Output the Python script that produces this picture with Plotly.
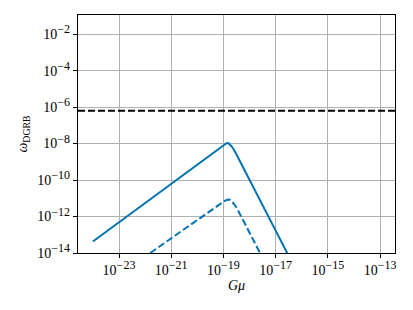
import plotly.graph_objects as go

# Data (log10 values)
gmu_log_solid = [-24.0, -19.4, -19.2, -19.05, -18.95, -18.87, -18.8, -18.73, -18.65, -18.5, -16.58, -16.2]
omega_log_solid = [-13.37, -8.5, -8.3, -8.13, -8.03, -7.97, -7.98, -8.07, -8.22, -8.6, -14.0, -15.0]
gmu_log_dashed = [-24.0, -19.3, -19.1, -18.95, -18.85, -18.77, -18.7, -18.62, -18.5, -17.6, -17.2]
omega_log_dashed = [-16.2, -11.48, -11.27, -11.14, -11.08, -11.07, -11.12, -11.25, -11.5, -14.0, -15.0]
dgrb_limit = 6.3e-7

x_tick_exps = [-23, -21, -19, -17, -15, -13]
y_tick_exps = [-14, -12, -10, -8, -6, -4, -2]

blue = "#0173B2"
font_family = "Liberation Serif, DejaVu Serif, serif"

fig = go.Figure()
fig.add_trace(go.Scatter(
    x=[10 ** v for v in gmu_log_solid], y=[10 ** v for v in omega_log_solid],
    mode="lines", line=dict(color=blue, width=2), showlegend=False))
fig.add_trace(go.Scatter(
    x=[10 ** v for v in gmu_log_dashed], y=[10 ** v for v in omega_log_dashed],
    mode="lines", line=dict(color=blue, width=2, dash="7px,3px"), showlegend=False))
fig.add_hline(y=dgrb_limit, line=dict(color="black", width=2, dash="7px,3px"))


def tick_text(e):
    return f"10<sup><span style='font-size:12px'>\u2212{-e}</span></sup>"


axis_common = dict(
    type="log", showgrid=True, gridcolor="#b0b0b0", gridwidth=1,
    ticks="outside", ticklen=4, tickwidth=1, tickcolor="black",
    showline=True, linecolor="black", linewidth=1.2, mirror=True,
    zeroline=False, tickfont=dict(family=font_family, size=14, color="black"),
)

fig.update_xaxes(
    **axis_common, range=[-24.57, -12.43],
    tickvals=[10 ** e for e in x_tick_exps],
    ticktext=[tick_text(e) for e in x_tick_exps],
    title=dict(text="<i>G\u03bc</i>", font=dict(family=font_family, size=14, color="black"), standoff=0),
)
fig.update_yaxes(
    **axis_common, range=[-14, -0.95],
    tickvals=[10 ** e for e in y_tick_exps],
    ticktext=[tick_text(e) for e in y_tick_exps],
    title=dict(text="<i>\u03c9</i><sub>DGRB</sub>", font=dict(family=font_family, size=14, color="black"), standoff=6),
)

# the page body has an 8px default margin, so the figure is offset by 8px
fig.update_layout(
    width=405, height=302,
    margin=dict(l=70, r=18, t=7, b=57),
    paper_bgcolor="white", plot_bgcolor="white",
    font=dict(family=font_family, color="black"),
)

fig.write_html("out.html")
